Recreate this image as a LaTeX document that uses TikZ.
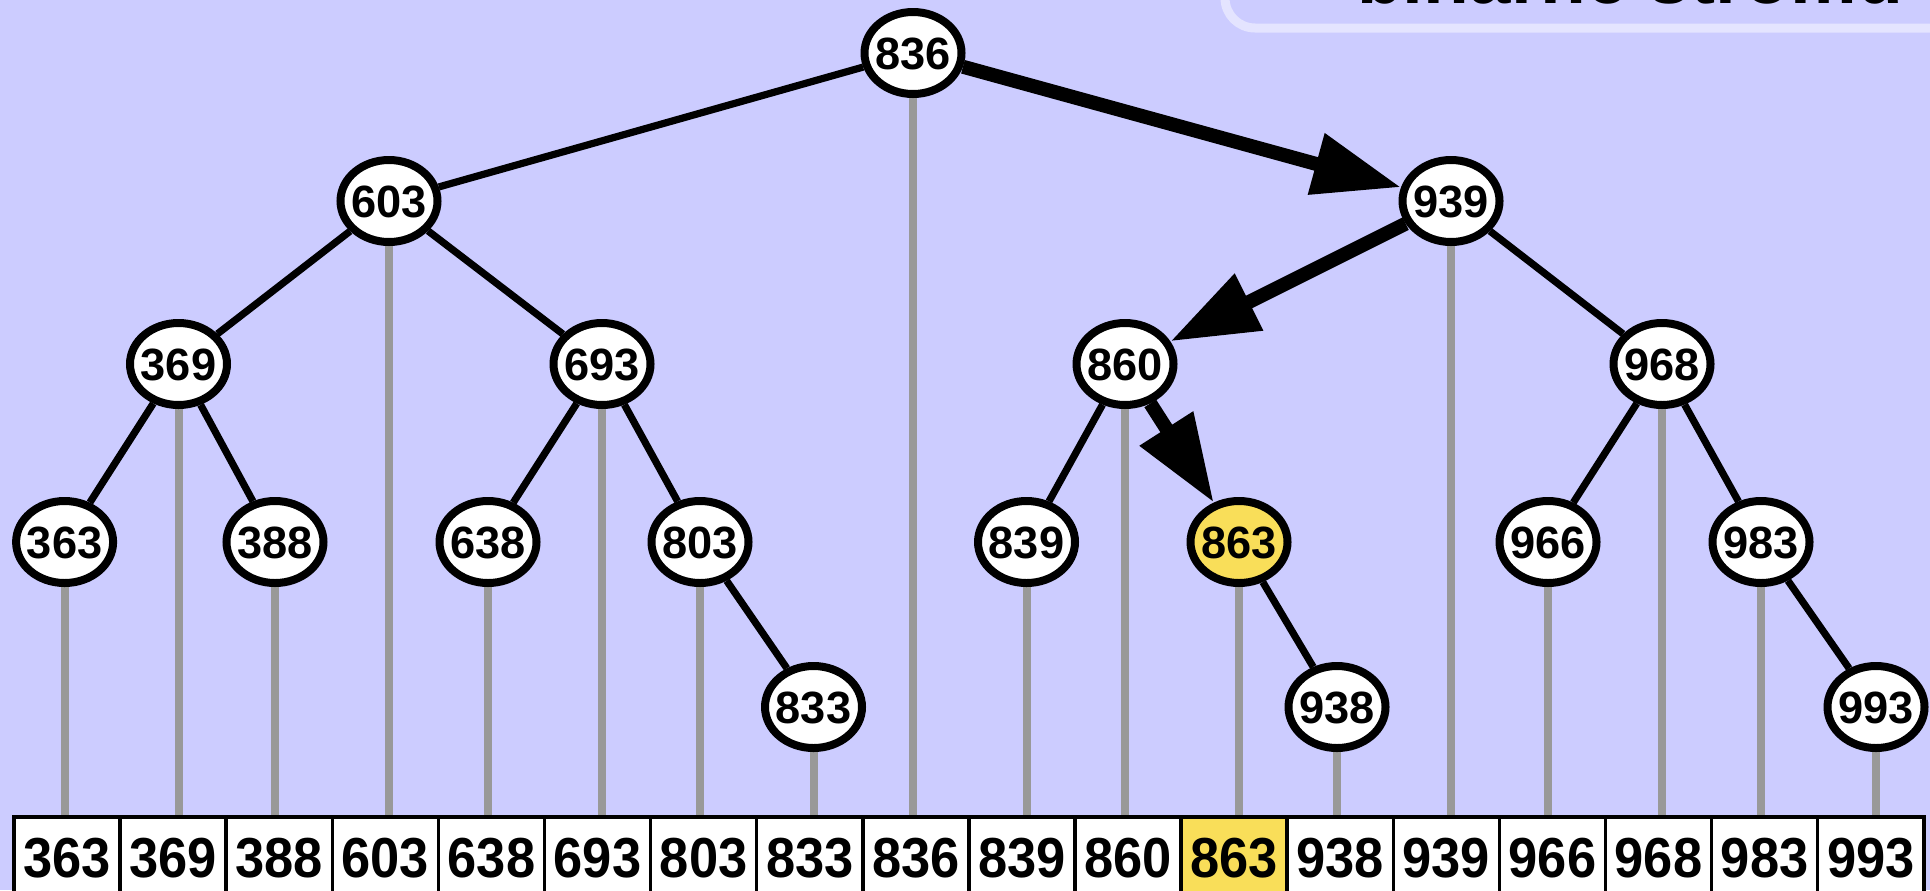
\documentclass[tikz,border=0pt]{standalone}
\usepackage{fontspec}
\setmainfont{Liberation Sans}
\usepackage{graphicx}
\usetikzlibrary{shapes.geometric,arrows.meta}
\definecolor{bgc}{RGB}{204,204,255}
\definecolor{titleborder}{RGB}{228,228,255}
\definecolor{stemgray}{RGB}{153,153,153}
\definecolor{hilite}{RGB}{249,222,89}
\pgfdeclarelayer{bglayer}
\pgfsetlayers{bglayer,main}
\newcommand\tnum[1]{\makebox[0pt]{#1}}
\begin{document}
\begin{tikzpicture}[x=0.5pt,y=-0.5pt,
  treenode/.style={ellipse,draw=black,line width=4pt,fill=white,
    minimum width=48.5pt,minimum height=41pt,inner sep=0pt,
    text height=16pt,text depth=0pt,
    font=\fontsize{22.6pt}{24pt}\selectfont\bfseries},
  cell/.style={rectangle,draw=black,line width=1.75pt,
    minimum width=53.05pt,minimum height=40pt,inner sep=0pt,
    text height=20pt,text depth=0pt,
    font=\fontsize{28.2pt}{30pt}\selectfont\bfseries},
  edge/.style={draw=black,line width=3.6pt},
  patharrow/.style={draw=black,line width=7pt,-{Triangle[length=44pt,width=30pt]}},
  stem/.style={draw=stemgray,line width=4pt},
  titlebox/.style={draw=titleborder,line width=4.5pt,rounded corners=15pt},
]
\useasboundingbox (0,0) rectangle (1930,890);
\clip (0,0) rectangle (1930,890);

% tree nodes
\node[treenode] (n836) at (913,53) {\tnum{836}};
\node[treenode] (n603) at (389,201) {\tnum{603}};
\node[treenode] (n939) at (1451,201) {\tnum{939}};
\node[treenode] (n369) at (178.5,364) {\tnum{369}};
\node[treenode] (n693) at (602,364) {\tnum{693}};
\node[treenode] (n860) at (1125,364) {\tnum{860}};
\node[treenode] (n968) at (1662,364) {\tnum{968}};
\node[treenode] (n363) at (64.6,542) {\tnum{363}};
\node[treenode] (n388) at (275,542) {\tnum{388}};
\node[treenode] (n638) at (488,542) {\tnum{638}};
\node[treenode] (n803) at (700,542) {\tnum{803}};
\node[treenode] (n839) at (1026.5,542) {\tnum{839}};
\node[treenode,fill=hilite] (n863) at (1239,542) {\tnum{863}};
\node[treenode] (n966) at (1548,542) {\tnum{966}};
\node[treenode] (n983) at (1761,542) {\tnum{983}};
\node[treenode] (n833) at (813.5,707) {\tnum{833}};
\node[treenode] (n938) at (1337,707) {\tnum{938}};
\node[treenode] (n993) at (1876,707) {\tnum{993}};

% array
\foreach \v/\f [count=\i from 0] in {363/white,369/white,388/white,603/white,638/white,693/white,803/white,833/white,836/white,839/white,860/white,863/hilite,938/white,939/white,966/white,968/white,983/white,993/white}{
  \node[cell,fill=\f] (c\i) at ({14+106.1*(\i+0.5)},857) {\scalebox{0.93}[1]{\v}};
}

% title (cut off by the top edge, as in the reference)
\node[anchor=base,font=\fontsize{37.5pt}{40pt}\selectfont\bfseries] (title) at (1630,3) {binárne stromu};

\begin{pgfonlayer}{bglayer}
  \fill[bgc] (0,0) rectangle (1930,890);
  \draw[titlebox] (1225,-100) rectangle (2040,28);
  \foreach \n in {836,603,939,369,693,860,968,363,388,638,803,839,863,966,983,833,938,993}{
    \draw[stem] (n\n.center) -- (n\n |- c0.north);
  }
  \draw[edge] (n836) -- (n603);
  \draw[edge] (n603) -- (n369);
  \draw[edge] (n603) -- (n693);
  \draw[edge] (n369) -- (n363);
  \draw[edge] (n369) -- (n388);
  \draw[edge] (n693) -- (n638);
  \draw[edge] (n693) -- (n803);
  \draw[edge] (n803) -- (n833);
  \draw[edge] (n939) -- (n968);
  \draw[edge] (n860) -- (n839);
  \draw[edge] (n863) -- (n938);
  \draw[edge] (n968) -- (n966);
  \draw[edge] (n968) -- (n983);
  \draw[edge] (n983) -- (n993);
\end{pgfonlayer}
\draw[patharrow] (n836) -- (n939);
\draw[patharrow] (n939) -- (n860);
\draw[patharrow] (n860) -- (n863);
\end{tikzpicture}
\end{document}
